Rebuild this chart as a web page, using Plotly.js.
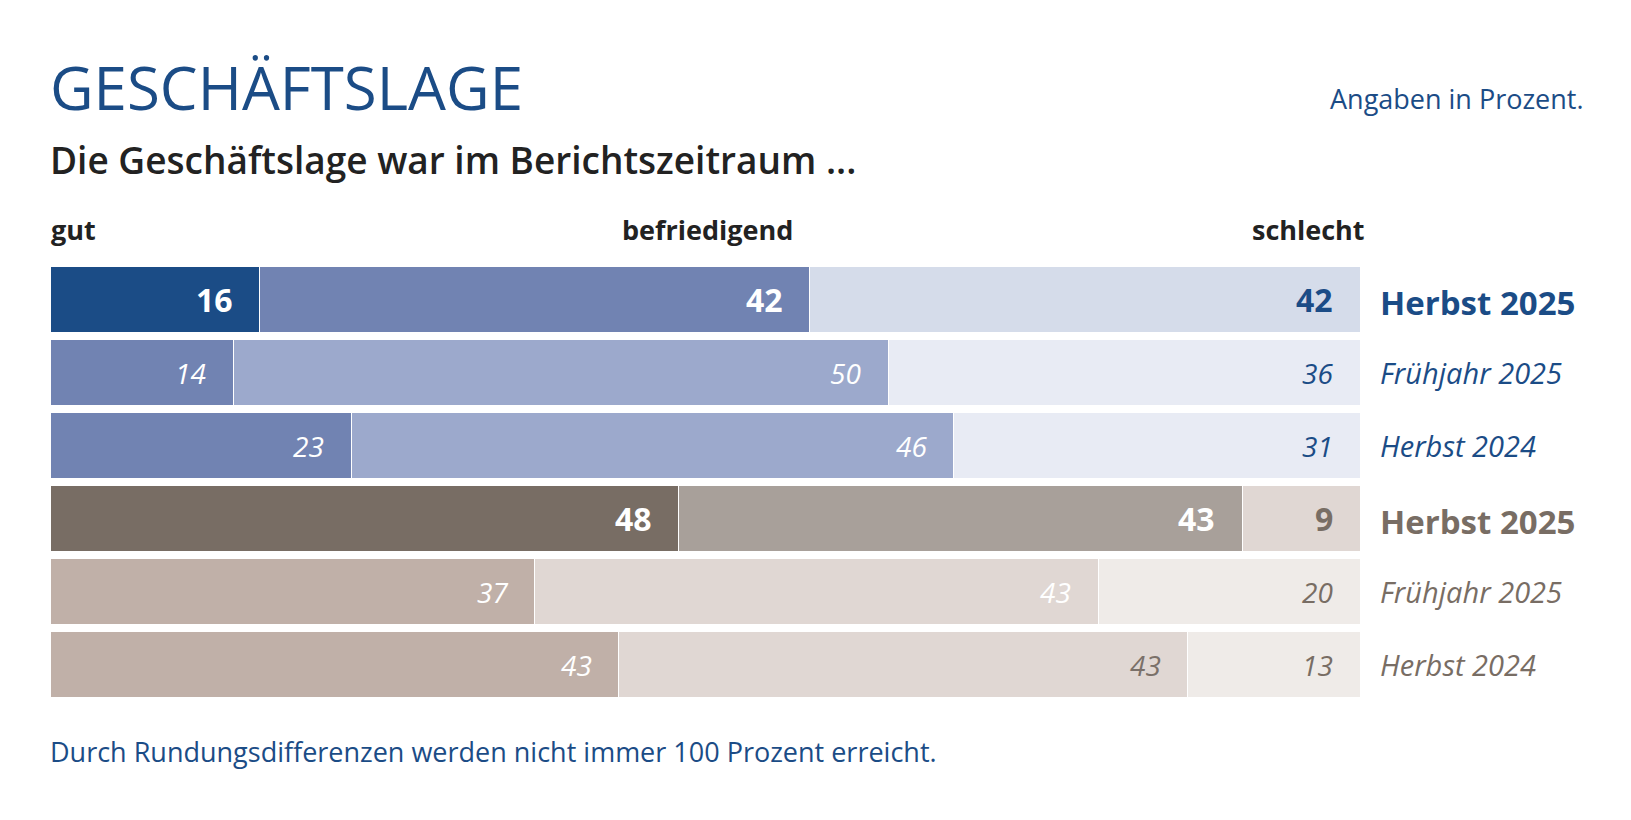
<!DOCTYPE html>
<html>
<head>
<meta charset="utf-8">
<script src="https://cdn.plot.ly/plotly-3.0.1.min.js"></script>
<style>html,body{margin:0;padding:0;background:#fff;}#chart{width:1631px;height:820px;}</style>
</head>
<body>
<div id="chart"></div>
<script>
// ---- data ----
const periods = ['Herbst 2025', 'Frühjahr 2025', 'Herbst 2024', 'Herbst 2025', 'Frühjahr 2025', 'Herbst 2024'];
const gut = [16, 14, 23, 48, 37, 43];
const befriedigend = [42, 50, 46, 43, 43, 43];
const schlecht = [42, 36, 31, 9, 20, 13];
const categoryLabels = ['gut', 'befriedigend', 'schlecht'];
const titleText = 'GESCHÄFTSLAGE';
const subtitleText = 'Die Geschäftslage war im Berichtszeitraum ...';
const unitText = 'Angaben in Prozent.';
const noteText = 'Durch Rundungsdifferenzen werden nicht immer 100 Prozent erreicht.';

// ---- styles ----
const BLUE = '#1b4c86';
const BROWN = '#786d64';
const colGut = ['#1b4c86', '#7183b2', '#7183b2', '#786d64', '#c0b0a8', '#c0b0a8'];
const colBef = ['#7183b2', '#9ca9cc', '#9ca9cc', '#a8a09a', '#e0d7d3', '#e0d7d3'];
const colSch = ['#d5dcea', '#e8ebf4', '#e8ebf4', '#e0d7d3', '#efebe8', '#efebe8'];
const txtGut = ['#ffffff', '#ffffff', '#ffffff', '#ffffff', '#ffffff', '#ffffff'];
const txtBef = ['#ffffff', '#ffffff', '#ffffff', '#ffffff', '#ffffff', '#7a7069'];
const txtSch = [BLUE, BLUE, BLUE, BROWN, BROWN, BROWN];
const rowColor = [BLUE, BLUE, BLUE, BROWN, BROWN, BROWN];
const emph = [true, false, false, true, false, false];
const FONT = 'Open Sans, Noto Sans, sans-serif';

const idx = periods.map((_, i) => i);
const totals = idx.map(i => gut[i] + befriedigend[i] + schlecht[i]);
const nGut = idx.map(i => gut[i] / totals[i] * 100);
const nBef = idx.map(i => befriedigend[i] / totals[i] * 100);
const nSch = idx.map(i => schlecht[i] / totals[i] * 100);

function bar(x, colors, name) {
  return {
    type: 'bar', orientation: 'h', y: idx, x: x, name: name,
    marker: {color: colors, line: {color: '#ffffff', width: 1}},
    hoverinfo: 'skip', showlegend: false
  };
}
const traces = [bar(nGut, colGut, categoryLabels[0]), bar(nBef, colBef, categoryLabels[1]), bar(nSch, colSch, categoryLabels[2])];

// plot area in pixels: x 50..1360, y 263..701
const PT = 263, PB = 701, PH = PB - PT;
const py = p => (PB - p) / PH;
const PL = 50, PR = 1360, PW = PR - PL;
const px = p => (p - PL) / PW;

const ann = [];
function valLabel(i, xEnd, val, color) {
  ann.push({
    xref: 'x', yref: 'y', x: xEnd, y: i, xanchor: 'right', yanchor: 'middle',
    xshift: -25, showarrow: false, text: emph[i] ? '<b>' + val + '</b>' : '<i>' + val + '</i>',
    font: {family: FONT, size: emph[i] ? 32 : 28, color: color}
  });
}
idx.forEach(i => {
  valLabel(i, nGut[i], gut[i], txtGut[i]);
  valLabel(i, nGut[i] + nBef[i], befriedigend[i], txtBef[i]);
  valLabel(i, 100, schlecht[i], txtSch[i]);
  ann.push({
    xref: 'paper', yref: 'y', x: 1, y: i, xanchor: 'left', yanchor: 'middle', xshift: 18,
    yshift: emph[i] ? -3 : 0,
    showarrow: false, text: emph[i] ? '<b>' + periods[i] + '</b>' : '<i>' + periods[i] + '</i>',
    font: {family: FONT, size: emph[i] ? 33 : 29, color: rowColor[i]}
  });
});
// header labels
const hdrFont = {family: FONT, size: 27, color: '#222222'};
ann.push({xref: 'paper', yref: 'paper', x: px(49), y: py(229), xanchor: 'left', yanchor: 'middle', showarrow: false,
  text: '<b>' + categoryLabels[0] + '</b>', font: hdrFont});
ann.push({xref: 'paper', yref: 'paper', x: px(707), y: py(229), xanchor: 'center', yanchor: 'middle', showarrow: false,
  text: '<b>' + categoryLabels[1] + '</b>', font: hdrFont});
ann.push({xref: 'paper', yref: 'paper', x: px(1367), y: py(229), xanchor: 'right', yanchor: 'middle', showarrow: false,
  text: '<b>' + categoryLabels[2] + '</b>', font: hdrFont});
// title, subtitle, unit, note
ann.push({xref: 'paper', yref: 'paper', x: px(48), y: py(87), xanchor: 'left', yanchor: 'middle', showarrow: false,
  text: titleText, font: {family: FONT, size: 60, weight: 500, color: BLUE}});
ann.push({xref: 'paper', yref: 'paper', x: px(48), y: py(159), xanchor: 'left', yanchor: 'middle', showarrow: false,
  text: subtitleText, font: {family: FONT, size: 37, weight: 600, color: '#222222'}});
ann.push({xref: 'paper', yref: 'paper', x: px(1586), y: py(98), xanchor: 'right', yanchor: 'middle', showarrow: false,
  text: unitText, font: {family: FONT, size: 27, color: BLUE}});
ann.push({xref: 'paper', yref: 'paper', x: px(48), y: py(751), xanchor: 'left', yanchor: 'middle', showarrow: false,
  text: noteText, font: {family: FONT, size: 27, color: BLUE}});

const layout = {
  width: 1631, height: 820,
  margin: {l: PL, r: 1631 - PR, t: PT, b: 820 - PB, pad: 0},
  paper_bgcolor: '#ffffff', plot_bgcolor: '#ffffff',
  barmode: 'stack', bargap: 0.1,
  xaxis: {range: [0, 100], visible: false, fixedrange: true},
  yaxis: {range: [5.5, -0.5], visible: false, fixedrange: true},
  annotations: ann, showlegend: false
};
Plotly.newPlot('chart', traces, layout, {displayModeBar: false, staticPlot: true});
</script>
</body>
</html>
